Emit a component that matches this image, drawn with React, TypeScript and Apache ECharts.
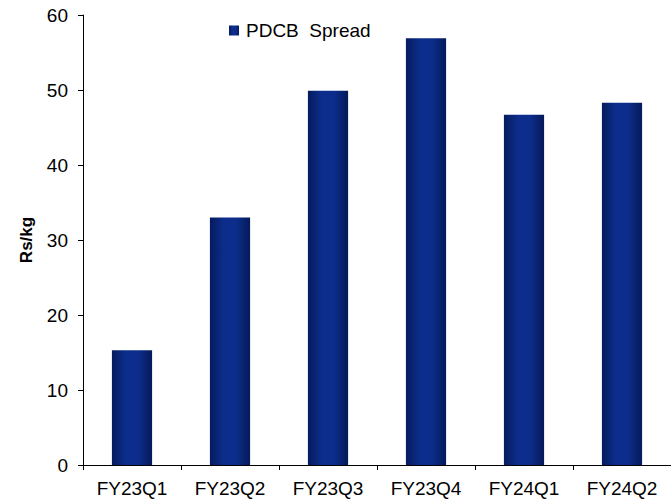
import React, { useEffect, useRef } from "react";
import * as echarts from "echarts";

const categories = ["FY23Q1", "FY23Q2", "FY23Q3", "FY23Q4", "FY24Q1", "FY24Q2"];
const spreadValues = [15.3, 33.0, 49.9, 56.9, 46.7, 48.3];
const seriesName = "PDCB  Spread";
const yTicks = { min: 0, max: 60, interval: 10 };

const FONT = "'Liberation Sans', Arial, sans-serif";

export default function App() {
  const ref = useRef<HTMLDivElement>(null);

  useEffect(() => {
    if (!ref.current) return;
    const chart = echarts.init(ref.current, undefined, { renderer: "svg" });
    // dark edges, lighter middle: a horizontally shaded column
    const barFill = new echarts.graphic.LinearGradient(0, 0, 1, 0, [
      { offset: 0, color: "#061b5e" },
      { offset: 0.35, color: "#0c2d8b" },
      { offset: 0.65, color: "#0c2d8b" },
      { offset: 1, color: "#051a5a" },
    ]);
    chart.setOption({
      animation: false,
      backgroundColor: "#ffffff",
      textStyle: { fontFamily: FONT },
      grid: { left: 83, top: 15, right: 0, bottom: 36 },
      legend: {
        data: [seriesName],
        left: 224,
        top: 16,
        itemWidth: 10,
        itemHeight: 10,
        itemGap: 0,
        icon: "rect",
        textStyle: { fontFamily: FONT, fontSize: 19, color: "#000", padding: [0, 0, 0, 2] },
      },
      xAxis: {
        type: "category",
        data: categories,
        boundaryGap: true,
        axisLine: { lineStyle: { color: "#000", width: 1 } },
        axisTick: { show: true, length: 5, alignWithLabel: false, lineStyle: { color: "#000" } },
        axisLabel: { color: "#000", fontSize: 19, fontFamily: FONT, margin: 14, interval: 0 },
        splitLine: { show: false },
      },
      yAxis: {
        type: "value",
        min: yTicks.min,
        max: yTicks.max,
        interval: yTicks.interval,
        name: "Rs/kg",
        nameLocation: "middle",
        nameGap: 48,
        nameTextStyle: { fontFamily: FONT, fontSize: 17, fontWeight: "bold", color: "#000" },
        axisLine: { show: true, lineStyle: { color: "#000", width: 1 } },
        axisTick: { show: true, length: 5, lineStyle: { color: "#000" } },
        axisLabel: { color: "#000", fontSize: 19, fontFamily: FONT, margin: 15 },
        splitLine: { show: false },
      },
      series: [
        {
          name: seriesName,
          type: "bar",
          data: spreadValues,
          barCategoryGap: "59%",
          itemStyle: { color: barFill },
        },
      ],
    });
    return () => chart.dispose();
  }, []);

  return <div ref={ref} style={{ width: 671, height: 501, position: "absolute", left: 0, top: 0 }} />;
}
